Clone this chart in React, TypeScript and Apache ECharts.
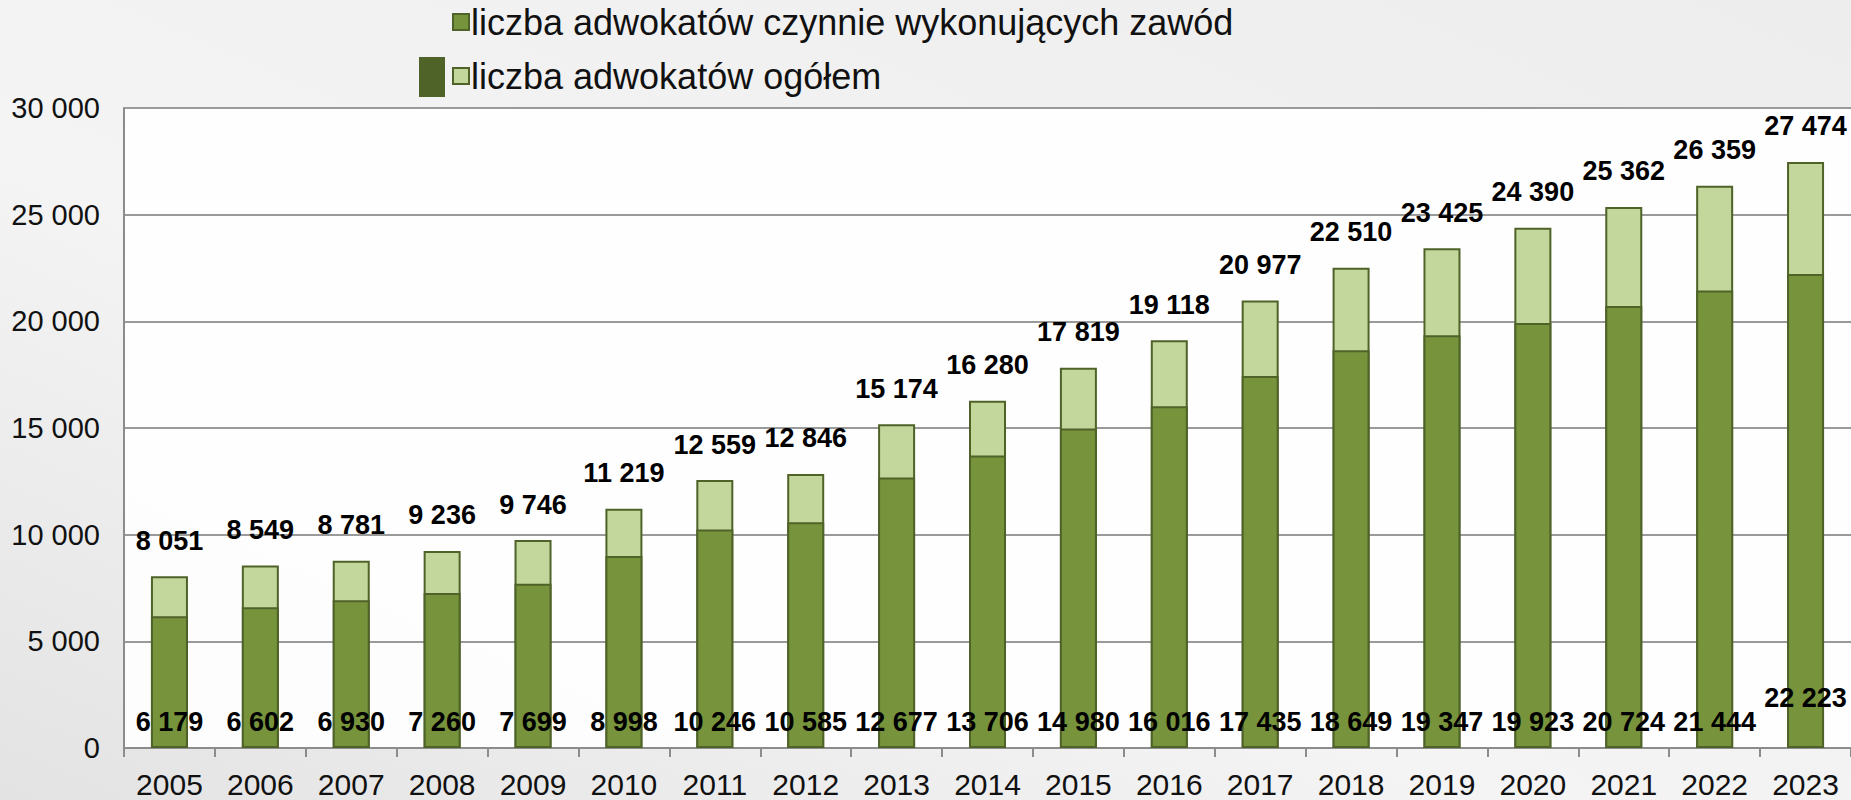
import React, { useEffect, useRef } from "react";
import * as echarts from "echarts";

const years = ["2005", "2006", "2007", "2008", "2009", "2010", "2011", "2012", "2013", "2014", "2015", "2016", "2017", "2018", "2019", "2020", "2021", "2022", "2023"];
const totalLawyers = [8051, 8549, 8781, 9236, 9746, 11219, 12559, 12846, 15174, 16280, 17819, 19118, 20977, 22510, 23425, 24390, 25362, 26359, 27474];
const activeLawyers = [6179, 6602, 6930, 7260, 7699, 8998, 10246, 10585, 12677, 13706, 14980, 16016, 17435, 18649, 19347, 19923, 20724, 21444, 22223];
const seriesNames = ["liczba adwokatów czynnie wykonujących zawód", "liczba adwokatów ogółem"];
const yTicks = [0, 5000, 10000, 15000, 20000, 25000, 30000];

const fmt = (v: number) => String(v).replace(/\B(?=(\d{3})+(?!\d))/g, " ");
const FONT = "'Liberation Sans', Arial, sans-serif";

export default function App() {
  const ref = useRef<HTMLDivElement>(null);
  useEffect(() => {
    if (!ref.current) return;
    const chart = echarts.init(ref.current, null, { renderer: "svg" });
    const last = activeLawyers.length - 1;
    chart.setOption({
      animation: false,
      backgroundColor: new echarts.graphic.LinearGradient(0, 1, 1, 0, [
        { offset: 0, color: "#e3e3e3" },
        { offset: 0.4, color: "#f4f4f4" },
        { offset: 1, color: "#ededed" },
      ]),
      grid: {
        left: 124,
        right: 0,
        top: 108,
        bottom: 52,
        show: true,
        backgroundColor: "rgba(255,255,255,0.9)",
        borderWidth: 0,
      },
      legend: {
        orient: "vertical",
        left: 452,
        top: 1,
        padding: 0,
        itemWidth: 16,
        itemHeight: 16,
        itemGap: 12,
        icon: "rect",
        data: [seriesNames[0], seriesNames[1]],
        textStyle: { fontFamily: FONT, fontSize: 36, color: "#111", lineHeight: 42, padding: [0, 0, 0, -3] },
      },
      graphic: [
        { type: "rect", left: 419, top: 57, shape: { width: 26, height: 40 }, style: { fill: "#4F6228" } },
      ],
      xAxis: {
        type: "category",
        data: years,
        axisLine: { lineStyle: { color: "#8c8c8c", width: 2 } },
        axisTick: { show: true, length: 9, lineStyle: { color: "#8c8c8c", width: 2 } },
        axisLabel: { fontFamily: FONT, fontSize: 30, color: "#111", margin: 21 },
      },
      yAxis: {
        type: "value",
        min: 0,
        max: yTicks[yTicks.length - 1],
        interval: yTicks[1] - yTicks[0],
        axisLine: { show: true, lineStyle: { color: "#8c8c8c", width: 2 } },
        axisTick: { show: false },
        splitLine: { lineStyle: { color: "#9a9a9a", width: 2 } },
        axisLabel: { fontFamily: FONT, fontSize: 29, color: "#111", margin: 24, formatter: (v: number) => fmt(v) },
      },
      series: [
        {
          name: seriesNames[1],
          type: "bar",
          barWidth: 37,
          barGap: "-100%",
          data: totalLawyers,
          itemStyle: { color: "#C3D69B", borderColor: "#4F6228", borderWidth: 2 },
          label: {
            show: true,
            position: "top",
            distance: 22,
            fontFamily: FONT,
            fontSize: 27,
            fontWeight: "bold",
            color: "#000",
            formatter: (p: any) => fmt(p.value),
          },
        },
        {
          name: seriesNames[0],
          type: "bar",
          barWidth: 37,
          barGap: "-100%",
          data: activeLawyers.map((v, i) => (i === last ? { value: v, label: { offset: [0, -24] } } : v)),
          itemStyle: { color: "#77933C", borderColor: "#4F6228", borderWidth: 2 },
          label: {
            show: true,
            position: "insideBottom",
            distance: 13,
            fontFamily: FONT,
            fontSize: 27,
            fontWeight: "bold",
            color: "#000",
            formatter: (p: any) => fmt(p.value),
          },
        },
      ],
    });
    return () => chart.dispose();
  }, []);
  return <div ref={ref} style={{ position: "fixed", left: 0, top: 0, width: 1851, height: 800 }} />;
}
